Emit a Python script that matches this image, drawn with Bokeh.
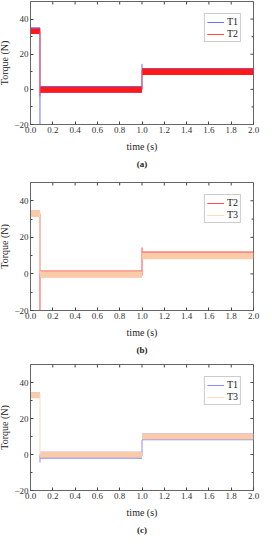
import math
from bokeh.plotting import figure
from bokeh.layouts import column
from bokeh.models import Range1d, FixedTicker, Legend, LegendItem, Title
from bokeh.embed import file_html
from bokeh.resources import INLINE

NAN = float("nan")
FONT = "Liberation Serif"

# ---------------- data ----------------
x_ticks = [0.0, 0.2, 0.4, 0.6, 0.8, 1.0, 1.2, 1.4, 1.6, 1.8, 2.0]
x_tick_labels = ["0.0", "0.2", "0.4", "0.6", "0.8", "1.0", "1.2", "1.4", "1.6", "1.8", "2.0"]
y_ticks = [-20, 0, 20, 40]
y_minor_ticks = [-10, 10, 30]
x_min, x_max = 0.0, 2.0
y_min, y_max = -20.0, 50.0

# time points of the ripple envelopes (step segments)
t_env = [0.0, 0.085, 0.085, 1.0, 1.0, 2.0]

# panel (a)
a_T1_lo = [31.5, 31.5, -2.0, -2.0, 8.2, 8.2]
a_T1_hi = [35.3, 35.3, 1.9, 1.9, 12.2, 12.2]
a_T2_lo = [31.5, 31.5, -2.0, -2.0, 8.2, 8.2]
a_T2_hi = [34.6, 34.6, 1.5, 1.5, 11.8, 11.8]
a_T1_edge_t = [0.085, 0.085, NAN, 1.0, 1.0]
a_T1_edge_v = [35.0, -25.0, NAN, 0.0, 14.5]
a_T2_edge_t = [0.0, 0.0, NAN, 0.085, 0.085, NAN, 1.0, 1.0]
a_T2_edge_v = [-25.0, 33.0, NAN, 33.0, -4.0, NAN, 0.0, 11.0]

# panel (b)
b_T2_lo = [31.5, 31.5, -1.8, -1.8, 8.3, 8.3]
b_T2_hi = [34.8, 34.8, 1.9, 1.9, 12.2, 12.2]
b_T3_lo = [31.2, 31.2, -2.0, -2.0, 8.0, 8.0]
b_T3_hi = [35.0, 35.0, 1.4, 1.4, 11.7, 11.7]
b_T2_edge_t = [0.085, 0.085, NAN, 1.0, 1.0]
b_T2_edge_v = [33.0, -25.0, NAN, -1.0, 14.5]
b_T3_edge_t = [0.085, 0.085]
b_T3_edge_v = [33.0, 0.0]

# panel (c)
c_T1_lo = [31.5, 31.5, -2.3, -2.3, 7.9, 7.9]
c_T1_hi = [34.5, 34.5, 1.5, 1.5, 11.6, 11.6]
c_T3_lo = [31.3, 31.3, -1.8, -1.8, 8.4, 8.4]
c_T3_hi = [34.6, 34.6, 1.5, 1.5, 11.6, 11.6]
c_T1_edge_t = [0.085, 0.085, NAN, 1.0, 1.0]
c_T1_edge_v = [0.0, -4.5, NAN, -1.0, 8.0]
c_T3_edge_t = [0.085, 0.085]
c_T3_edge_v = [34.0, 0.0]

BLUE = "#6f6cff"
BLUE_LIGHT = "#8c8aff"
RED = "#ff1a1a"
RED_LINE = "#ff4a4a"
PEACH = "#f9cba8"
PEACH_LINE = "#fcd9bf"
AXIS = "#666666"
TICK = "#444444"


def style_ticks(ax):
    ax.axis_line_color = AXIS
    ax.major_tick_line_color = TICK
    ax.minor_tick_line_color = TICK
    ax.major_tick_in = 3
    ax.major_tick_out = 0
    ax.minor_tick_in = 2
    ax.minor_tick_out = 0


def make_fig(frame_h, top, letter, margin):
    p = figure(frame_width=227, frame_height=frame_h,
               x_range=Range1d(x_min, x_max), y_range=Range1d(y_min, y_max),
               output_backend="svg", toolbar_location=None,
               min_border_left=28, min_border_right=5, min_border_top=top,
               min_border_bottom=0, margin=margin,
               x_axis_label="time (s)", y_axis_label="Torque (N)")
    p.grid.visible = False
    p.outline_line_color = AXIS

    xa = p.xaxis[0]
    xa.ticker = FixedTicker(ticks=x_ticks, minor_ticks=[])
    xa.major_label_overrides = {x_ticks[i]: x_tick_labels[i] for i in range(len(x_ticks))}
    ya = p.yaxis[0]
    ya.ticker = FixedTicker(ticks=y_ticks, minor_ticks=y_minor_ticks)
    for ax in (xa, ya):
        style_ticks(ax)
        ax.major_label_text_font = FONT
        ax.major_label_text_font_size = "9px"
        ax.major_label_text_color = "#333333"
        ax.axis_label_text_font = FONT
        ax.axis_label_text_font_size = "10px"
        ax.axis_label_text_font_style = "normal"
        ax.axis_label_text_color = "#222222"
    xa.major_label_standoff = 2
    xa.axis_label_standoff = 5
    ya.major_label_standoff = 2
    ya.axis_label_standoff = 1

    # inward ticks on the top and right edges of the frame
    p.ray(x=x_ticks, y=[y_max] * len(x_ticks), length=3, length_units="screen",
          angle=-math.pi / 2, line_color=TICK, line_width=1)
    p.ray(x=[x_max] * len(y_ticks), y=y_ticks, length=3, length_units="screen",
          angle=math.pi, line_color=TICK, line_width=1)
    p.ray(x=[x_max] * len(y_minor_ticks), y=y_minor_ticks, length=2, length_units="screen",
          angle=math.pi, line_color=TICK, line_width=1)

    # sub-figure letter
    p.add_layout(Title(text=letter, align="center", text_font=FONT, text_font_size="9px",
                       text_font_style="bold", text_color="#222222", standoff=4), "below")
    return p


def add_legend(p, items):
    leg = Legend(items=items, location="top_right", margin=12, padding=2, spacing=1,
                 glyph_width=17, glyph_height=10, label_height=10, label_width=0,
                 label_standoff=3,
                 label_text_font=FONT, label_text_font_size="10px",
                 label_text_color="#222222", border_line_color="#999999",
                 background_fill_alpha=1.0)
    p.add_layout(leg)


# ---------------- panel (a) ----------------
pa = make_fig(123, 1, "(a)", (0, 0, 0, -4))
pa.varea(x=t_env, y1=a_T1_lo, y2=a_T1_hi, fill_color=BLUE)
ra1 = pa.line(a_T1_edge_t, a_T1_edge_v, line_color=BLUE, line_width=1)
pa.varea(x=t_env, y1=a_T2_lo, y2=a_T2_hi, fill_color=RED)
ra2 = pa.line(a_T2_edge_t, a_T2_edge_v, line_color=RED_LINE, line_width=1)
add_legend(pa, [LegendItem(label="T1", renderers=[ra1]), LegendItem(label="T2", renderers=[ra2])])

# ---------------- panel (b) ----------------
pb = make_fig(128, 12, "(b)", (0, 0, 0, -4))
pb.varea(x=t_env, y1=b_T2_lo, y2=b_T2_hi, fill_color=RED_LINE)
rb2 = pb.line(b_T2_edge_t, b_T2_edge_v, line_color=RED_LINE, line_width=1)
pb.varea(x=t_env, y1=b_T3_lo, y2=b_T3_hi, fill_color=PEACH)
rb3 = pb.line(b_T3_edge_t, b_T3_edge_v, line_color=PEACH_LINE, line_width=1)
add_legend(pb, [LegendItem(label="T2", renderers=[rb2]), LegendItem(label="T3", renderers=[rb3])])

# ---------------- panel (c) ----------------
pc = make_fig(126, 8, "(c)", (0, 0, -8, -4))
pc.varea(x=t_env, y1=c_T1_lo, y2=c_T1_hi, fill_color=BLUE_LIGHT)
rc1 = pc.line(c_T1_edge_t, c_T1_edge_v, line_color=BLUE_LIGHT, line_width=1)
pc.varea(x=t_env, y1=c_T3_lo, y2=c_T3_hi, fill_color=PEACH)
rc3 = pc.line(c_T3_edge_t, c_T3_edge_v, line_color=PEACH_LINE, line_width=1)
add_legend(pc, [LegendItem(label="T1", renderers=[rc1]), LegendItem(label="T3", renderers=[rc3])])

layout = column(pa, pb, pc, spacing=0)
open("out.html", "w").write(file_html(layout, INLINE))
